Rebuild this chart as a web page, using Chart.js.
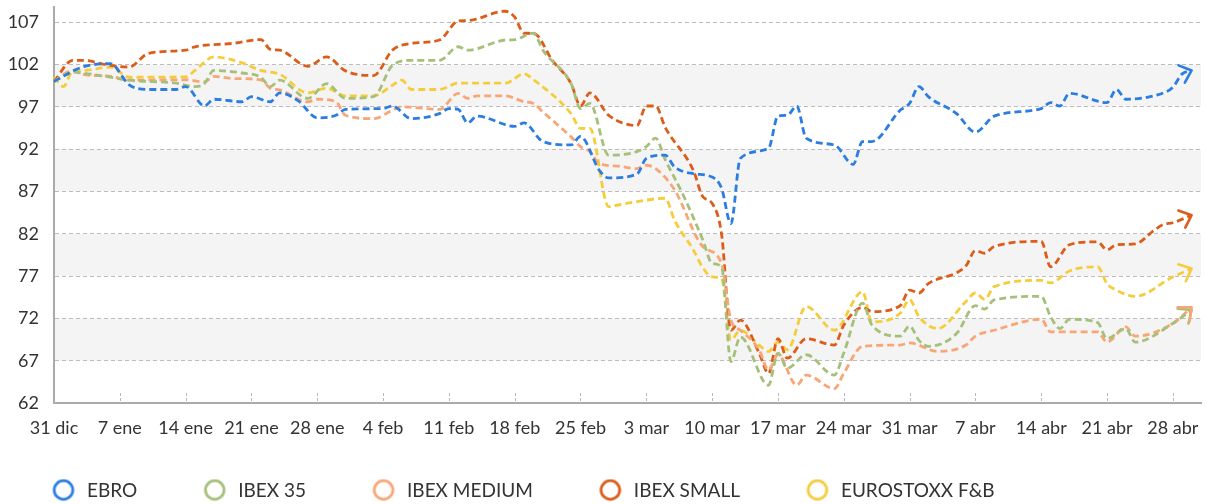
<!DOCTYPE html>
<html>
<head>
<meta charset="utf-8">
<script src="https://cdn.jsdelivr.net/npm/chart.js"></script>
<style>
  html, body { margin: 0; padding: 0; background: #ffffff; }
  #wrap { width: 1206px; height: 504px; position: relative; }
</style>
</head>
<body>
<div id="wrap"><canvas id="c" width="1206" height="504"></canvas></div>
<script>
// ---------- DATA ----------
const seriesNames = ['EBRO', 'IBEX 35', 'IBEX MEDIUM', 'IBEX SMALL', 'EUROSTOXX F&B'];
const xTickLabels = ['31 dic','7 ene','14 ene','21 ene','28 ene','4 feb','11 feb','18 feb','25 feb','3 mar','10 mar','17 mar','24 mar','31 mar','7 abr','14 abr','21 abr','28 abr'];
const xTickDays = [0,7,14,21,28,35,42,49,56,63,70,77,84,91,98,105,112,119];
const yTicks = [62,67,72,77,82,87,92,97,102,107];
const shadedBands = [[67,72],[77,82],[87,92],[97,102]];

// days since 31 dic
const ebroDays = [0,3,6,8,10,13,14,16,17,20,21,23,24,26,28,30,31,35,36,38,41,42,43,44,45,49,50,52,55,56,58,59,62,63,65,66,68,70,71,72,73,76,77,78,79,80,83,85,86,87,90,91,92,93,96,98,100,105,106,107,108,112,113,114,118,119,120,121];
const ebroValues = [100,101.7,102.1,99.6,99.05,99.05,99.4,97.1,97.9,97.6,98.2,97.6,98.65,97.7,95.7,96.0,96.7,96.8,97.1,95.6,96.2,96.8,96.7,95.1,95.9,94.7,95.1,92.9,92.5,93.5,89.5,88.6,89.05,90.9,91.3,89.9,89.1,88.7,87.4,83.2,90.9,92.1,95.9,96.0,97.1,93.3,92.5,90.2,92.9,92.9,96.6,97.4,99.4,98.2,96.2,94.0,95.9,96.8,97.5,97.1,98.6,97.5,99.05,97.9,98.65,99.3,100.9,101.3];

const ibex35Days = [0,2,3,6,8,13,15,16,17,20,22,23,24,27,29,31,34,36,38,41,43,44,48,49,51,52,55,56,57,59,62,63,64,65,67,69,70,71,72,73,76,77,78,80,83,84,86,87,90,91,92,93,96,98,99,100,105,106,107,108,111,112,114,115,119,121];
const ibex35Values = [100,101.1,101.0,100.5,100.15,99.8,99.4,99.75,101.3,101.0,100.5,99.4,100.15,98.0,99.75,98.0,98.2,101.9,102.5,102.5,104.1,103.7,104.9,104.95,105.7,103.7,99.75,96.8,97.4,91.3,91.7,92.3,93.3,90.8,86.4,81.3,78.5,78.1,66.9,69.8,64.1,67.9,66.1,67.7,65.3,67.9,73.8,71.2,69.9,71.1,69.4,68.7,70.2,73.5,73.1,74.2,74.6,72.2,70.8,71.9,71.5,69.6,70.8,69.2,71.4,73.0];

const ibexMediumDays = [0,2,3,6,8,14,16,17,19,22,23,24,27,28,30,31,34,36,37,41,43,44,45,48,50,51,52,55,56,57,58,60,62,63,64,66,69,71,72,73,75,76,77,79,80,83,84,86,90,91,94,97,98,100,105,106,111,112,114,115,119,121];
const ibexMediumValues = [100,101.3,100.85,100.6,100.15,100.2,99.95,100.6,100.35,100.2,99.2,99.0,97.6,97.9,97.6,96.0,95.6,96.6,97.0,96.7,98.6,98.0,98.3,98.3,97.6,97.4,96.4,93.45,92.3,91.7,90.3,90.0,89.7,90.1,89.7,87.2,80.5,78.5,71.8,70.6,68.3,65.9,67.7,64.1,65.3,63.7,65.5,68.7,68.85,69.1,68.1,68.85,69.9,70.6,71.9,70.4,70.4,69.2,71.0,69.9,71.4,73.3];

const ibexSmallDays = [0,2,3,6,8,10,14,15,19,22,23,24,27,29,31,34,36,38,41,43,44,48,49,50,51,53,55,56,57,59,62,63,64,65,68,69,70,71,72,73,75,76,77,78,80,83,84,86,87,90,91,92,93,96,97,98,99,100,105,106,108,111,112,113,115,117,118,119,121];
const ibexSmallValues = [100,102.5,102.5,101.9,101.7,103.3,103.7,104.1,104.5,104.95,103.8,103.7,101.8,102.9,101.25,100.7,103.7,104.5,104.9,107.15,107.2,108.3,107.6,105.7,105.7,102.5,99.75,97.1,98.65,96.0,94.8,97.1,97.1,94.6,89.5,86.4,85.6,82.0,70.6,71.8,67.9,65.5,69.6,67.3,69.6,68.85,71.2,73.3,72.8,73.5,75.35,75.0,76.1,77.4,78.2,80.0,79.7,80.5,81.1,78.1,80.7,81.05,80.1,80.7,80.8,82.4,83.1,83.3,84.2];

const eurostoxxDays = [0,1,2,3,6,8,14,15,17,20,22,24,27,29,31,34,36,37,38,41,43,48,50,51,55,56,57,59,60,62,65,66,68,69,70,71,72,73,75,76,77,78,80,83,86,87,90,91,92,94,97,98,99,100,105,106,108,111,112,113,115,119,121];
const eurostoxxValues = [100.5,99.4,101.25,101.3,101.7,100.5,100.55,101.3,102.9,102.2,101.3,100.85,98.65,99.2,98.3,98.3,99.55,100.15,99.05,99.05,99.8,99.8,100.9,100.2,96.2,94.45,94.45,85.2,85.4,85.8,86.2,83.6,80.1,78.0,76.9,76.7,69.45,70.6,68.85,68.1,69.2,68.3,73.4,70.6,75.15,71.6,72.6,74.2,72.2,70.8,74.0,75.0,74.25,75.75,76.5,76.2,77.6,78.1,76.1,75.35,74.6,76.9,77.9];

// ---------- STYLE ----------
const colors = ['#2b7de0', '#a6c07a', '#f9a677', '#db5d19', '#f5cd3c'];
const FONT = { family: 'Lato, "Open Sans", sans-serif', size: 18 };
const LEGEND_FONT = { family: 'Lato, "Open Sans", sans-serif', size: 19 };
const TEXT = '#333333';

const allDays = [ebroDays, ibex35Days, ibexMediumDays, ibexSmallDays, eurostoxxDays];
const allValues = [ebroValues, ibex35Values, ibexMediumValues, ibexSmallValues, eurostoxxValues];

function ring(color) {
  const c = document.createElement('canvas');
  c.width = 34; c.height = 24;
  const g = c.getContext('2d');
  g.strokeStyle = color; g.lineWidth = 2.8;
  g.beginPath(); g.arc(12, 11.5, 9.3, 0, Math.PI * 2); g.stroke();
  return c;
}
const rings = colors.map(ring);

const datasets = seriesNames.map((name, i) => ({
  label: name,
  data: allDays[i].map((d, k) => ({ x: d, y: allValues[i][k] })),
  borderColor: colors[i],
  backgroundColor: colors[i],
  borderWidth: 2.8,
  borderDash: [7, 4],
  pointRadius: 0,
  pointHoverRadius: 0,
  fill: false,
  cubicInterpolationMode: 'monotone',
  clip: false
}));

const bandsPlugin = {
  id: 'bands',
  beforeDraw(chart) {
    const { ctx, chartArea: a, scales: { y } } = chart;
    ctx.save();
    ctx.fillStyle = '#f4f4f4';
    shadedBands.forEach(([lo, hi]) => {
      const t = y.getPixelForValue(hi), b = y.getPixelForValue(lo);
      ctx.fillRect(a.left, t, a.right - a.left, b - t);
    });
    ctx.restore();
  }
};

const innerTicksPlugin = {
  id: 'innerTicks',
  beforeDatasetsDraw(chart) {
    const { ctx, chartArea: a, scales: { x } } = chart;
    ctx.save();
    ctx.strokeStyle = '#b8b8b8';
    ctx.lineWidth = 1;
    ctx.setLineDash([3, 2]);
    x.ticks.forEach((t, i) => {
      if (i === 0) return;
      const px = Math.round(x.getPixelForValue(t.value)) + 0.5;
      ctx.beginPath();
      ctx.moveTo(px, a.bottom - 10);
      ctx.lineTo(px, a.bottom);
      ctx.stroke();
    });
    ctx.restore();
  }
};

const arrowPlugin = {
  id: 'arrows',
  afterDatasetsDraw(chart) {
    const ctx = chart.ctx;
    chart.data.datasets.forEach((ds, i) => {
      const pts = chart.getDatasetMeta(i).data;
      const n = pts.length;
      if (n < 2) return;
      const a = pts[n - 2], b = pts[n - 1];
      const ang = Math.atan2(b.y - a.y, b.x - a.x);
      const L = 14, h = 0.72;
      ctx.save();
      ctx.strokeStyle = ds.borderColor;
      ctx.lineWidth = 2.6;
      ctx.lineCap = 'round';
      ctx.lineJoin = 'round';
      ctx.setLineDash([]);
      ctx.beginPath();
      ctx.moveTo(b.x - L * Math.cos(ang - h), b.y - L * Math.sin(ang - h));
      ctx.lineTo(b.x, b.y);
      ctx.lineTo(b.x - L * Math.cos(ang + h), b.y - L * Math.sin(ang + h));
      ctx.stroke();
      ctx.restore();
    });
  }
};

const legendPlacePlugin = {
  id: 'legendPlace',
  afterLayout(chart) {
    const lg = chart.legend;
    if (!lg) return;
    lg.left -= 14; lg.right -= 14;
    lg.top = 407.5; lg.bottom = 504; lg.height = 96.5;
  }
};

new Chart(document.getElementById('c'), {
  type: 'line',
  data: { datasets },
  options: {
    responsive: false,
    animation: false,
    devicePixelRatio: 1,
    layout: { padding: { top: 7, right: 5, bottom: 0, left: 0 } },
    plugins: {
      tooltip: { enabled: false },
      legend: {
        position: 'bottom',
        align: 'start',
        maxHeight: 61,
        labels: {
          usePointStyle: true,
          boxWidth: 18,
          boxHeight: 13,
          padding: 73.5,
          color: TEXT,
          font: LEGEND_FONT,
          generateLabels: (chart) => chart.data.datasets.map((ds, i) => ({
            text: ds.label,
            fillStyle: 'rgba(0,0,0,0)',
            strokeStyle: ds.borderColor,
            lineWidth: 0,
            pointStyle: rings[i],
            hidden: false,
            datasetIndex: i,
            fontColor: TEXT
          }))
        }
      }
    },
    scales: {
      x: {
        type: 'linear',
        min: 0,
        max: 122,
        bounds: 'data',
        afterBuildTicks: (s) => { s.ticks = xTickDays.map(v => ({ value: v })); },
        afterFit: (s) => { s.height = 40; s.paddingLeft = 0; s.paddingRight = 0; },
        ticks: {
          callback: (v, i) => xTickLabels[i],
          autoSkip: false,
          maxRotation: 0,
          minRotation: 0,
          padding: 14,
          color: TEXT,
          font: FONT
        },
        grid: { display: false, drawTicks: false },
        border: { display: true, color: '#aaaaaa', width: 2 }
      },
      y: {
        type: 'linear',
        min: 62,
        max: 108.8,
        bounds: 'data',
        afterBuildTicks: (s) => { s.ticks = yTicks.map(v => ({ value: v })); },
        afterFit: (s) => { s.width = 54; s.paddingTop = 0; s.paddingBottom = 0; },
        ticks: { padding: 15, color: TEXT, font: FONT },
        grid: { color: '#bdbdbd', lineWidth: 1, drawTicks: false },
        border: { display: true, color: '#aaaaaa', width: 2, dash: [4, 3] }
      }
    }
  },
  plugins: [bandsPlugin, innerTicksPlugin, arrowPlugin, legendPlacePlugin]
});
</script>
</body>
</html>
